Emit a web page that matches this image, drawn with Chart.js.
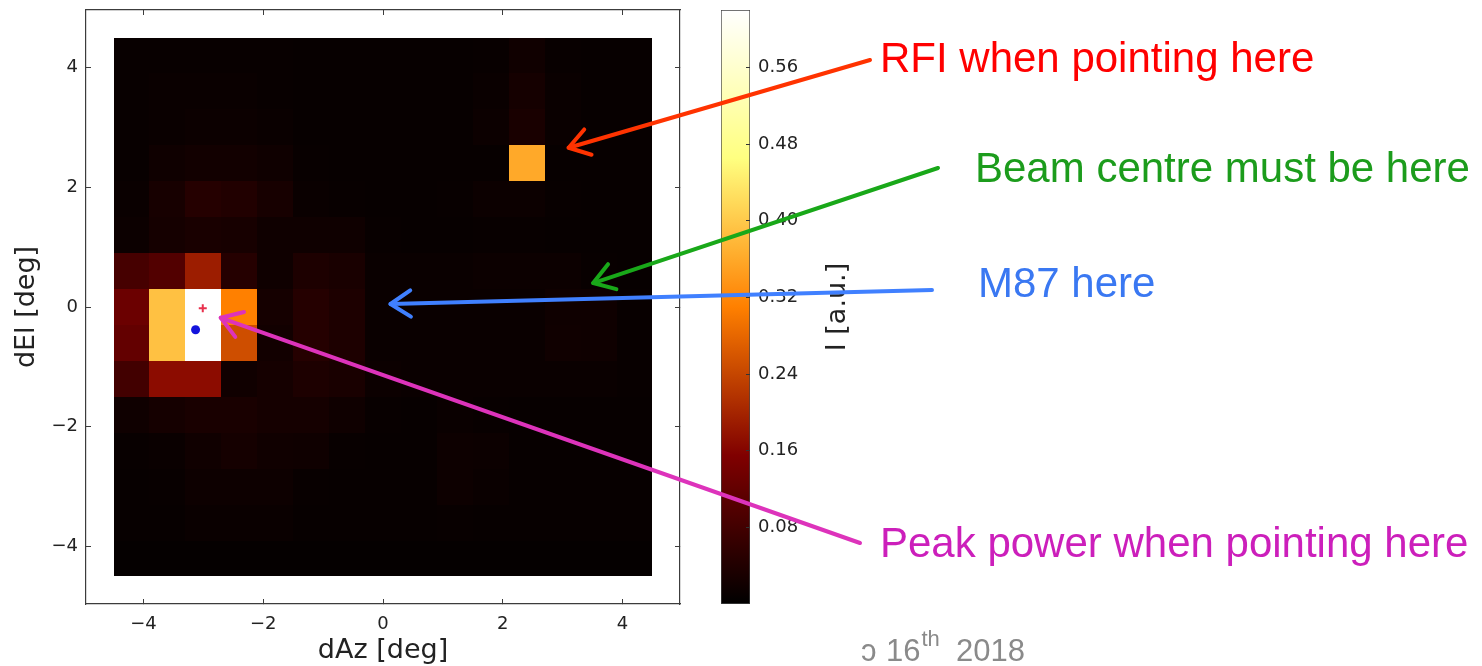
<!DOCTYPE html>
<html>
<head>
<meta charset="utf-8">
<title>Pointing scan</title>
<script src="https://cdn.jsdelivr.net/npm/chart.js@4.4.1/dist/chart.umd.min.js"></script>
<style>
  html, body { margin: 0; padding: 0; background: #fff; }
  #wrap { position: relative; width: 1482px; height: 666px; overflow: hidden; }
  #colorbar { position: absolute; left: 700px; top: 0; z-index: 1; }
  #scan { position: absolute; left: 0; top: 0; z-index: 2; }
</style>
</head>
<body>
<div id="wrap">
  <canvas id="colorbar" width="180" height="666"></canvas>
  <canvas id="scan" width="1482" height="666"></canvas>
</div>
<script>
// grid of the raster scan (cell centres, deg)
var azCentres = [-4.2, -3.6, -3.0, -2.4, -1.8, -1.2, -0.6, 0.0, 0.6, 1.2, 1.8, 2.4, 3.0, 3.6, 4.2];
var elCentres = [4.2, 3.6, 3.0, 2.4, 1.8, 1.2, 0.6, 0.0, -0.6, -1.2, -1.8, -2.4, -3.0, -3.6, -4.2];
var cellSize = 0.6;

// measured power, one row per elevation (top to bottom)
var intensity = [
  [0.010, 0.010, 0.010, 0.010, 0.010, 0.008, 0.008, 0.008, 0.008, 0.008, 0.010, 0.020, 0.010, 0.008, 0.008],
  [0.010, 0.012, 0.012, 0.012, 0.010, 0.008, 0.008, 0.008, 0.008, 0.008, 0.012, 0.025, 0.012, 0.008, 0.008],
  [0.010, 0.012, 0.015, 0.015, 0.012, 0.008, 0.008, 0.008, 0.008, 0.008, 0.015, 0.030, 0.012, 0.008, 0.008],
  [0.010, 0.018, 0.022, 0.022, 0.018, 0.010, 0.008, 0.008, 0.008, 0.008, 0.008, 0.360, 0.008, 0.008, 0.008],
  [0.012, 0.028, 0.045, 0.040, 0.028, 0.012, 0.010, 0.008, 0.008, 0.010, 0.015, 0.015, 0.010, 0.008, 0.008],
  [0.015, 0.025, 0.030, 0.028, 0.018, 0.018, 0.018, 0.010, 0.008, 0.008, 0.010, 0.010, 0.008, 0.008, 0.008],
  [0.085, 0.100, 0.190, 0.045, 0.018, 0.035, 0.030, 0.012, 0.012, 0.012, 0.015, 0.015, 0.015, 0.010, 0.008],
  [0.130, 0.390, 0.620, 0.310, 0.025, 0.045, 0.035, 0.012, 0.012, 0.012, 0.012, 0.012, 0.018, 0.018, 0.010],
  [0.120, 0.390, 0.620, 0.250, 0.022, 0.045, 0.035, 0.012, 0.012, 0.012, 0.012, 0.012, 0.020, 0.018, 0.010],
  [0.080, 0.170, 0.170, 0.020, 0.025, 0.035, 0.030, 0.015, 0.012, 0.012, 0.012, 0.012, 0.012, 0.012, 0.010],
  [0.018, 0.025, 0.030, 0.030, 0.025, 0.025, 0.018, 0.010, 0.008, 0.012, 0.010, 0.008, 0.008, 0.008, 0.008],
  [0.010, 0.012, 0.020, 0.025, 0.020, 0.018, 0.010, 0.008, 0.008, 0.016, 0.015, 0.008, 0.008, 0.008, 0.008],
  [0.008, 0.010, 0.016, 0.016, 0.016, 0.010, 0.008, 0.008, 0.008, 0.016, 0.012, 0.008, 0.008, 0.008, 0.008],
  [0.008, 0.008, 0.012, 0.012, 0.012, 0.008, 0.008, 0.008, 0.008, 0.010, 0.008, 0.008, 0.008, 0.008, 0.008],
  [0.006, 0.006, 0.006, 0.006, 0.006, 0.006, 0.006, 0.006, 0.006, 0.006, 0.006, 0.006, 0.006, 0.006, 0.006]
];

var axisTicks = [-4, -2, 0, 2, 4];
var cbTicks = [0.08, 0.16, 0.24, 0.32, 0.40, 0.48, 0.56];
var vmax = 0.62;

var crossPoint = [{ x: -3.01, y: -0.02 }];
var dotPoint = [{ x: -3.13, y: -0.38 }];

// callouts: tip is in dAz/dEl, the rest is page pixels
var notes = [
  { text: 'RFI when pointing here', color: '#ff0000', line: '#ff3300', tx: 880, ty: 72, from: [870, 60], tip: [3.10, 2.66] },
  { text: 'Beam centre must be here', color: '#1c9c1c', line: '#19a819', tx: 975, ty: 182, from: [938, 168], tip: [3.51, 0.40] },
  { text: 'M87 here', color: '#3a78f2', line: '#4080ff', tx: 978, ty: 297, from: [932, 290], tip: [0.125, 0.05] },
  { text: 'Peak power when pointing here', color: '#cc1fbb', line: '#dd33bb', tx: 880, ty: 557, from: [860, 543], tip: [-2.71, -0.18] }
];

function afmhot(t) {
  t = Math.max(0, Math.min(1, t));
  var r = Math.min(1, 2 * t);
  var g = Math.max(0, Math.min(1, 2 * t - 0.5));
  var b = Math.max(0, Math.min(1, 2 * t - 1));
  return 'rgb(' + Math.round(r * 255) + ',' + Math.round(g * 255) + ',' + Math.round(b * 255) + ')';
}

function minusTick(v) {
  return v < 0 ? '\u2212' + Math.abs(v) : '' + v;
}

function fixedTicks(list) {
  return function (scale) {
    scale.ticks = list.map(function (v) { return { value: v }; });
  };
}

// pin a scale's thickness and drop the label overhang padding
function pinSize(prop, size) {
  return function (s) {
    s[prop] = size;
    s.paddingTop = 0;
    s.paddingBottom = 0;
    s.paddingLeft = 0;
    s.paddingRight = 0;
  };
}

var frame = '#3c3c3c';
var tickFont = { family: 'DejaVu Sans', size: 18 };
var labelFont = { family: 'DejaVu Sans', size: 27, lineHeight: 1.1 };

var heatmap = {
  id: 'heatmap',
  beforeDatasetsDraw: function (chart) {
    var c = chart.ctx, xs = chart.scales.x, ys = chart.scales.y;
    var half = cellSize / 2;
    c.save();
    for (var r = 0; r < elCentres.length; r++) {
      for (var k = 0; k < azCentres.length; k++) {
        var x0 = Math.round(xs.getPixelForValue(azCentres[k] - half));
        var x1 = Math.round(xs.getPixelForValue(azCentres[k] + half));
        var y0 = Math.round(ys.getPixelForValue(elCentres[r] + half));
        var y1 = Math.round(ys.getPixelForValue(elCentres[r] - half));
        c.fillStyle = afmhot(intensity[r][k] / vmax);
        c.fillRect(x0, y0, x1 - x0, y1 - y0);
      }
    }
    c.restore();
  }
};

var callouts = {
  id: 'callouts',
  afterDraw: function (chart) {
    var c = chart.ctx, xs = chart.scales.x, ys = chart.scales.y;
    c.save();
    notes.forEach(function (n) {
      c.font = '42px "Liberation Sans", Arial, sans-serif';
      c.fillStyle = n.color;
      c.textAlign = 'left';
      c.textBaseline = 'alphabetic';
      c.fillText(n.text, n.tx, n.ty);

      var px = xs.getPixelForValue(n.tip[0]);
      var py = ys.getPixelForValue(n.tip[1]);
      var ang = Math.atan2(n.from[1] - py, n.from[0] - px);
      c.strokeStyle = n.line;
      c.lineWidth = 4;
      c.lineCap = 'round';
      c.lineJoin = 'round';
      c.beginPath();
      c.moveTo(n.from[0], n.from[1]);
      c.lineTo(px, py);
      c.stroke();
      c.beginPath();
      c.moveTo(px + 24 * Math.cos(ang + 0.58), py + 24 * Math.sin(ang + 0.58));
      c.lineTo(px, py);
      c.lineTo(px + 24 * Math.cos(ang - 0.58), py + 24 * Math.sin(ang - 0.58));
      c.stroke();
    });

    // slide footer, cut at the left
    c.fillStyle = '#8a8a8a';
    c.font = '31px "Liberation Sans", Arial, sans-serif';
    c.fillText('\u0254', 861, 661);
    c.fillText('16', 886, 661);
    var w = c.measureText('16').width;
    c.font = '22px "Liberation Sans", Arial, sans-serif';
    c.fillText('th', 886 + w + 1, 646);
    c.font = '31px "Liberation Sans", Arial, sans-serif';
    c.fillText('2018', 956, 661);
    c.restore();
  }
};

var cbLabel = {
  id: 'cbLabel',
  afterDraw: function (chart) {
    var c = chart.ctx, ca = chart.chartArea;
    c.save();
    c.translate(ca.right + 88, (ca.top + ca.bottom) / 2);
    c.rotate(-Math.PI / 2);
    c.font = '27px "DejaVu Sans"';
    c.fillStyle = '#222';
    c.textAlign = 'center';
    c.textBaseline = 'middle';
    c.fillText('I [a.u.]', 0, 0);
    c.restore();
  }
};

function cbGradient(context) {
  var chart = context.chart, ca = chart.chartArea;
  if (!ca) return '#000';
  var g = chart.ctx.createLinearGradient(0, ca.bottom, 0, ca.top);
  for (var i = 0; i <= 40; i++) {
    g.addColorStop(i / 40, afmhot(i / 40));
  }
  return g;
}

new Chart(document.getElementById('colorbar'), {
  type: 'bar',
  data: {
    labels: ['I'],
    datasets: [{
      data: [[0, vmax]],
      backgroundColor: cbGradient,
      borderColor: '#444',
      borderWidth: 1,
      borderSkipped: false,
      barPercentage: 1,
      categoryPercentage: 1
    }]
  },
  options: {
    responsive: false,
    animation: false,
    layout: { padding: { left: 21, top: 10, right: 0, bottom: 62 } },
    plugins: { legend: { display: false }, tooltip: { enabled: false } },
    scales: {
      x: { display: false },
      y: {
        position: 'right',
        min: 0,
        max: vmax,
        afterBuildTicks: fixedTicks(cbTicks),
        afterFit: pinSize('width', 130),
        grid: { drawOnChartArea: false, tickLength: -4, color: '#333', z: 1 },
        border: { display: false },
        ticks: {
          padding: 12,
          color: '#222',
          font: tickFont,
          callback: function (v) { return v.toFixed(2); }
        }
      }
    }
  },
  plugins: [cbLabel]
});

new Chart(document.getElementById('scan'), {
  type: 'scatter',
  data: {
    datasets: [
      {
        label: 'cross',
        data: crossPoint,
        xAxisID: 'x',
        yAxisID: 'y',
        pointStyle: 'cross',
        radius: 4,
        borderColor: '#e8304c',
        borderWidth: 2
      },
      {
        label: 'dot',
        data: dotPoint,
        xAxisID: 'x',
        yAxisID: 'y',
        pointStyle: 'circle',
        radius: 4.5,
        backgroundColor: '#1414dc',
        borderWidth: 0
      }
    ]
  },
  options: {
    responsive: false,
    animation: false,
    layout: { padding: { left: 0, top: 10, right: 802, bottom: 0 } },
    plugins: { legend: { display: false }, tooltip: { enabled: false } },
    scales: {
      x: {
        type: 'linear',
        position: 'bottom',
        min: -4.96,
        max: 4.96,
        afterBuildTicks: fixedTicks(axisTicks),
        afterFit: pinSize('height', 62),
        grid: { drawOnChartArea: false, tickLength: -5, color: frame },
        border: { color: frame, width: 1.2 },
        ticks: { padding: 15, color: '#222', font: tickFont, maxRotation: 0, callback: minusTick },
        title: { display: true, text: 'dAz [deg]', color: '#222', font: labelFont, padding: 0 }
      },
      y: {
        type: 'linear',
        position: 'left',
        min: -4.96,
        max: 4.96,
        afterBuildTicks: fixedTicks(axisTicks),
        afterFit: pinSize('width', 86),
        grid: { drawOnChartArea: false, tickLength: -5, color: frame },
        border: { color: frame, width: 1.2 },
        ticks: { padding: 13, color: '#222', font: tickFont, callback: minusTick },
        title: { display: true, text: 'dEl [deg]', color: '#222', font: labelFont, padding: { top: 12, bottom: 0 } }
      },
      x2: {
        type: 'linear',
        position: 'top',
        min: -4.96,
        max: 4.96,
        afterBuildTicks: fixedTicks(axisTicks),
        afterFit: pinSize('height', 0),
        grid: { drawOnChartArea: false, tickLength: -5, color: frame },
        border: { color: frame, width: 1.2 },
        ticks: { display: false }
      },
      y2: {
        type: 'linear',
        position: 'right',
        min: -4.96,
        max: 4.96,
        afterBuildTicks: fixedTicks(axisTicks),
        afterFit: pinSize('width', 0),
        grid: { drawOnChartArea: false, tickLength: -5, color: frame },
        border: { color: frame, width: 1.2 },
        ticks: { display: false }
      }
    }
  },
  plugins: [heatmap, callouts]
});
</script>
</body>
</html>
